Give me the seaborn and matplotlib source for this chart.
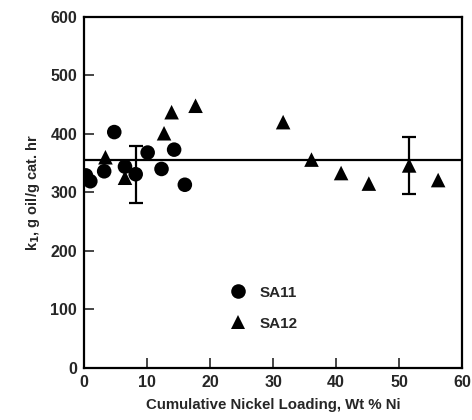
import pandas as pd
import numpy as np
import seaborn as sns
import matplotlib.pyplot as plt

# values
sa11_x = [0.3, 1.0, 3.2, 4.8, 6.5, 8.2, 10.1, 12.3, 14.3, 16.0]
sa11_y = [329, 319, 336, 403, 344, 331, 368, 340, 373, 313]
sa12_x = [3.4, 6.5, 12.7, 13.9, 17.7, 31.6, 36.1, 40.8, 45.2, 51.6, 56.2]
sa12_y = [360, 325, 401, 437, 448, 420, 356, 333, 315, 346, 321]

mean_k1 = 355
err_x = [8.2, 51.6]
err_y = [331, 346]
err_size = [49, 48]

x_ticks = [0, 10, 20, 30, 40, 50, 60]
y_ticks = [0, 100, 200, 300, 400, 500, 600]

df = pd.DataFrame({
    'loading': sa11_x + sa12_x,
    'k1': sa11_y + sa12_y,
    'catalyst': ['SA11'] * len(sa11_x) + ['SA12'] * len(sa12_x),
})

sns.set_style('ticks')
plt.rcParams['font.family'] = ['Liberation Sans', 'DejaVu Sans']
plt.rcParams['font.weight'] = 'bold'

fig = plt.figure(figsize=(4.72, 4.2), dpi=100)
ax_ = fig.add_axes([0.178, 0.124, 0.801, 0.836])

ax_.axhline(mean_k1, color='black', lw=1.6, zorder=1)
ax_.errorbar(err_x, err_y, yerr=err_size, fmt='none', ecolor='black',
             elinewidth=1.6, capsize=5, capthick=1.6, zorder=2)

sns.scatterplot(
    data=df, x='loading', y='k1', style='catalyst',
    markers={'SA11': 'o', 'SA12': '^'}, color='black',
    s=110, edgecolor='black', linewidth=0, ax=ax_, zorder=3,
)

ax_.set_xlim(0, 60)
ax_.set_ylim(0, 600)
ax_.set_xticks(x_ticks)
ax_.set_yticks(y_ticks)
ax_.tick_params(direction='in', length=7, width=1.2, labelsize=11.5, pad=5)
for lab in ax_.get_xticklabels() + ax_.get_yticklabels():
    lab.set_fontweight('bold')
for sp in ax_.spines.values():
    sp.set_linewidth(1.6)
    sp.set_color('black')

ax_.set_xlabel('Cumulative Nickel Loading, Wt % Ni', fontsize=10.8,
               fontweight='bold', labelpad=6)
ax_.set_ylabel('k$_\\mathbf{1}$, g oil/g cat. hr', fontsize=10.5,
               fontweight='bold', labelpad=6)

leg = ax_.legend(loc='center left', bbox_to_anchor=(0.33, 0.17),
                 frameon=False, labelspacing=1.1, handletextpad=0.4,
                 markerscale=1.0, prop={'weight': 'bold', 'size': 11})

plt.savefig('out.png', dpi=100)
